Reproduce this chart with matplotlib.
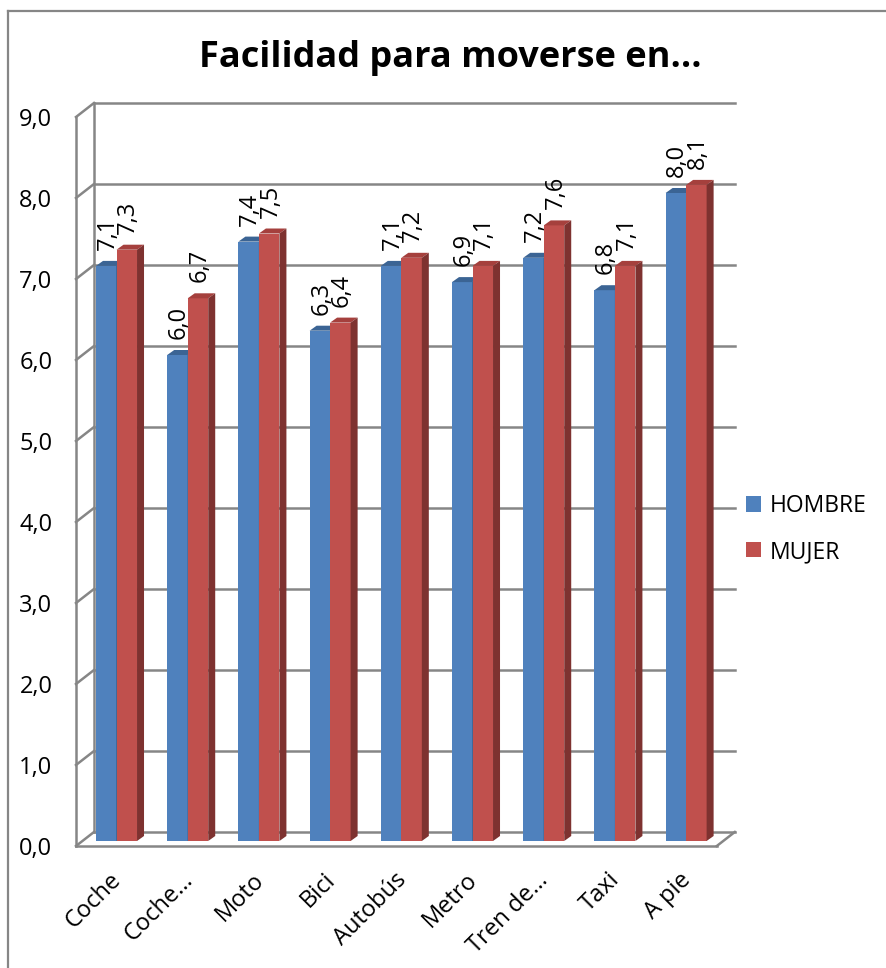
import numpy as np
import matplotlib.pyplot as plt
from matplotlib.patches import Polygon, Patch

# datos
categorias = ['Coche', 'Coche\u2026', 'Moto', 'Bici', 'Autobús', 'Metro', 'Tren de\u2026', 'Taxi', 'A pie']
hombre = [7.1, 6.0, 7.4, 6.3, 7.1, 6.9, 7.2, 6.8, 8.0]
mujer = [7.3, 6.7, 7.5, 6.4, 7.2, 7.1, 7.6, 7.1, 8.1]
series = ['HOMBRE', 'MUJER']
yticks = np.arange(0, 10, 1)

plt.rcParams['font.family'] = ['Open Sans', 'DejaVu Sans']

W, H = 886, 968
PX_CAT, PX_VAL = 71.2, 81.0
DX, DY = 18 / PX_CAT, 14 / PX_VAL       # profundidad de la pared del fondo
TDX, TDY = 7 / PX_CAT, 5 / PX_VAL       # profundidad de las barras
BASE = 5 / PX_VAL
SHIFT = 0.069
BW = 0.288
GRID = '#868686'
FS = 17

fig = plt.figure(figsize=(W / 100, H / 100), dpi=100)
ax = fig.add_axes([76 / W, (H - 846) / H, 9.25 * PX_CAT / W, 9.2 * PX_VAL / H])
ax.set_xlim(-0.5, 8.75)
ax.set_ylim(0, 9.2)
for s in ax.spines.values():
    s.set_visible(False)
ax.set_xticks([])
ax.set_yticks(yticks)
ax.set_yticklabels([f'{v:.1f}'.replace('.', ',') for v in yticks], fontsize=FS)
ax.tick_params(axis='y', length=0, pad=17)

n = len(categorias)
x = np.arange(n)
lw = 1.8
# paredes y rejilla
for v in yticks:
    ax.plot([-0.5 + DX, n - 0.5 + DX], [v + DY, v + DY], color=GRID, lw=lw, zorder=1, clip_on=False)
    ax.plot([-0.5, -0.5 + DX], [v, v + DY], color=GRID, lw=lw, zorder=1, clip_on=False)
ax.plot([-0.5, -0.5], [0, yticks[-1]], color=GRID, lw=lw, zorder=1, clip_on=False)
ax.plot([-0.5 + DX, -0.5 + DX], [DY, yticks[-1] + DY], color=GRID, lw=lw, zorder=1, clip_on=False)
ax.plot([-0.5, n - 0.5], [0, 0], color=GRID, lw=lw, zorder=1, clip_on=False)
ax.plot([n - 0.5, n - 0.5 + DX], [0, DY], color=GRID, lw=lw, zorder=1, clip_on=False)

colores = [('#4F81BD', '#3B6494', '#2F5077'), ('#C0504D', '#A5403D', '#7E3230')]
for k, (vals, (cf, ct, cs)) in enumerate(zip([hombre, mujer], colores)):
    xc = x + SHIFT + (k - 0.5) * BW
    ax.bar(xc, vals, width=BW, bottom=BASE, color=cf, edgecolor='none', lw=0, zorder=3 + k)
    for xi, v in zip(xc, vals):
        x0, x1, top = xi - BW / 2, xi + BW / 2, BASE + v
        ax.add_patch(Polygon([(x0, top), (x1, top), (x1 + TDX, top + TDY), (x0 + TDX, top + TDY)],
                             closed=True, facecolor=ct, edgecolor='none', zorder=3 + k))
        ax.add_patch(Polygon([(x1, BASE), (x1, top), (x1 + TDX, top + TDY), (x1 + TDX, BASE + TDY)],
                             closed=True, facecolor=cs, edgecolor='none', zorder=3 + k))
        ax.text(xi + 0.02, top + 16 / PX_VAL, f'{v:.1f}'.replace('.', ','), rotation=90,
                ha='center', va='bottom', fontsize=FS, zorder=10)

for xi, name in zip(x + SHIFT - 0.1, categorias):
    ax.text(xi, -22 / PX_VAL, name, rotation=45, rotation_mode='anchor',
            ha='right', va='top', fontsize=FS)

handles = [Patch(facecolor=c[0], edgecolor='none') for c in colores]
fig.legend(handles, series, loc='center left', bbox_to_anchor=(746 / W, 1 - 529 / H),
           frameon=False, fontsize=16.5, handlelength=0.65, handleheight=0.65,
           handletextpad=0.4, labelspacing=0.95, borderpad=0, borderaxespad=0)

fig.text(450 / W, 1 - 58 / H, 'Facilidad para moverse en...', ha='center', va='center',
         fontsize=26, fontweight='bold')

# borde del gráfico
fig.add_artist(plt.Line2D([8 / W, 1], [1 - 11 / H, 1 - 11 / H], color=GRID, lw=1.6, transform=fig.transFigure))
fig.add_artist(plt.Line2D([8 / W, 8 / W], [0, 1 - 11 / H], color=GRID, lw=1.6, transform=fig.transFigure))

fig.savefig('out.png', dpi=100)
